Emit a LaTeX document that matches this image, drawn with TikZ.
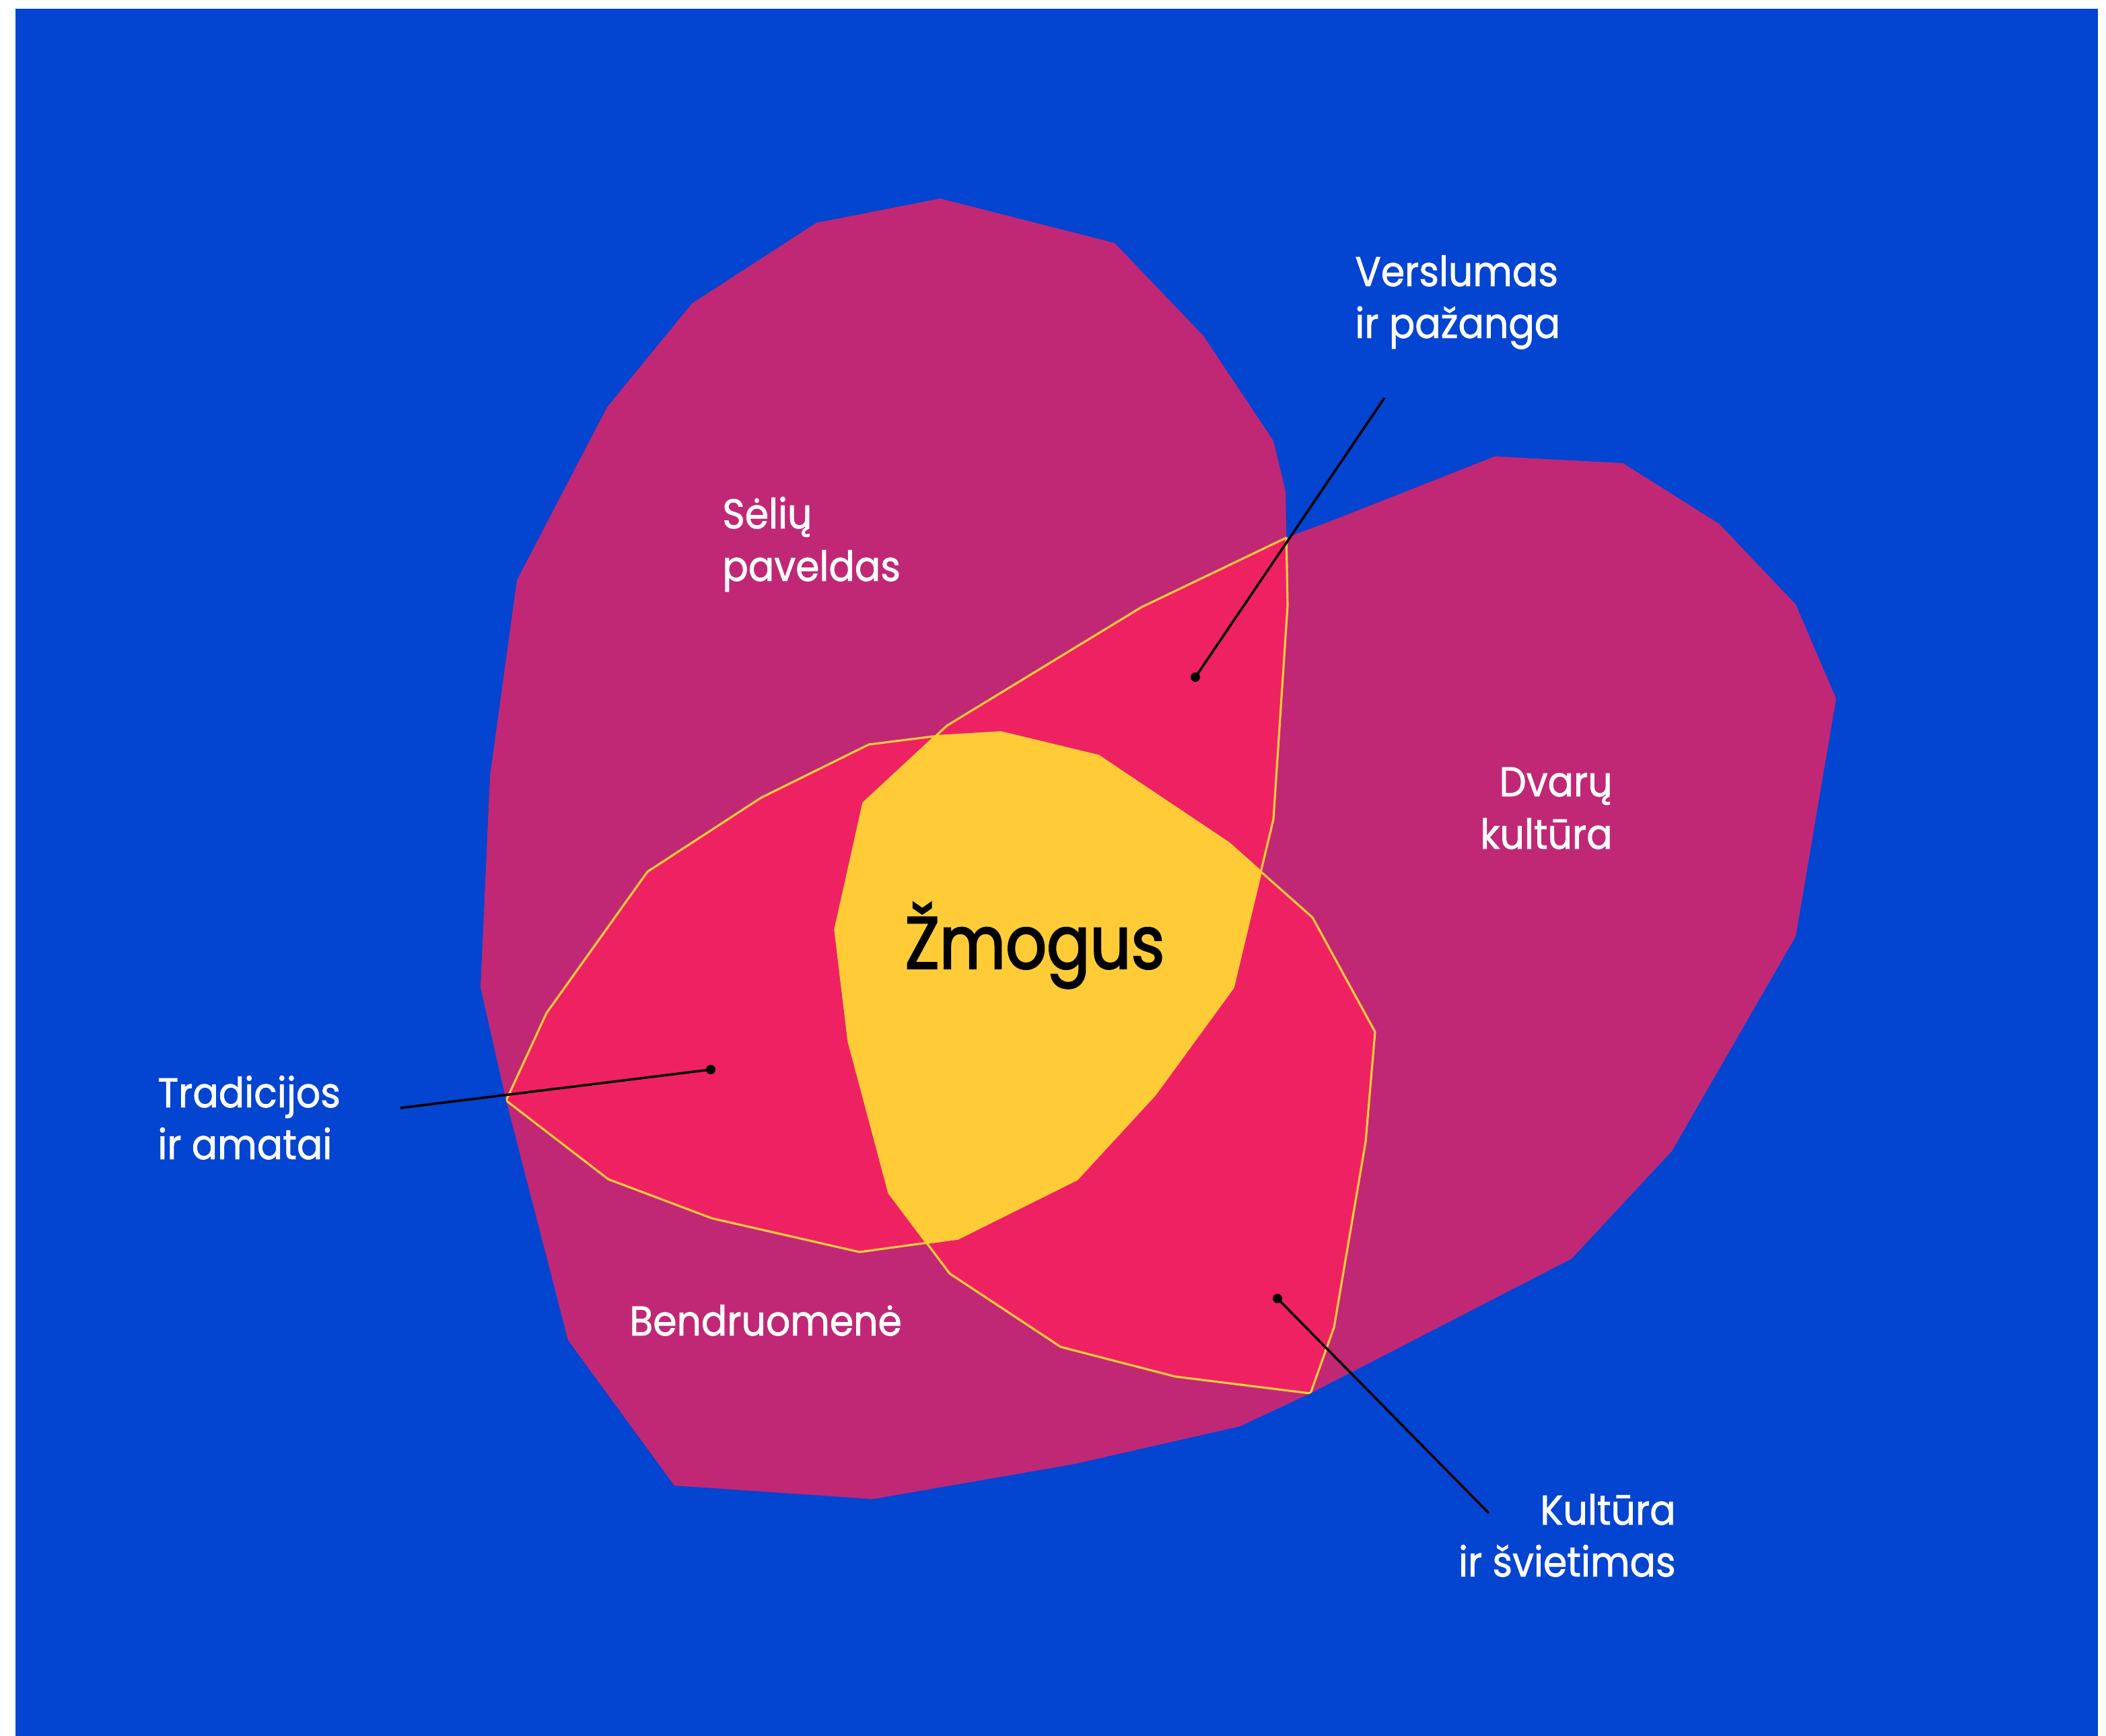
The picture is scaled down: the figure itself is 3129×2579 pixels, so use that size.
\documentclass[tikz,border=0pt]{standalone}
\usepackage{fontspec}
\setmainfont{Poppins}
\newfontfamily\labfont[FakeStretch=0.92, FakeBold=1.2]{Poppins}
\newfontfamily\bigfont[FakeStretch=0.87, FakeBold=2.2]{Poppins}
\definecolor{bgblue}{RGB}{3,68,208}
\definecolor{magent}{RGB}{192,40,118}
\definecolor{pinkred}{RGB}{238,34,98}
\definecolor{sunyel}{RGB}{255,204,56}
\def\pathS{(1397,295) -- (1656,361) -- (1788,499) -- (1892,655) -- (1910,730) -- (1913,900) -- (1892,1217) -- (1832,1467) -- (1716,1626) -- (1600,1752) -- (1423,1840) -- (1277,1860) -- (1058,1810) -- (904,1752) -- (752,1635) -- (714,1467) -- (728,1153) -- (768,862) -- (902,605) -- (1028,451) -- (1213,331) -- cycle}
\def\pathB{(752,1635) -- (812,1505) -- (962,1295) -- (1131,1185) -- (1291,1106) -- (1387,1094) -- (1487,1088) -- (1632,1123) -- (1826,1253) -- (1950,1363) -- (2043,1533) -- (2029,1696) -- (1982,1972) -- (1947,2070) -- (1842,2119) -- (1596,2175) -- (1297,2227) -- (1002,2207) -- (844,1991) -- cycle}
\def\pathD{(1913,798) -- (1983,772) -- (2221,678) -- (2411,688) -- (2554,778) -- (2668,898) -- (2728,1038) -- (2668,1391) -- (2484,1710) -- (2335,1870) -- (1947,2070) -- (1746,2045) -- (1576,2001) -- (1411,1892) -- (1321,1772) -- (1261,1547) -- (1241,1381) -- (1283,1193) -- (1407,1078) -- (1696,902) -- cycle}
\tikzset{
  lab/.style={font=\labfont\fontsize{8.8pt}{10pt}\selectfont, text=white, inner sep=0pt},
  dotmark/.style={circle, fill=black, inner sep=0pt, minimum size=2pt},
  leader/.style={draw=black, line width=0.5pt},
  edgeline/.style={draw=sunyel, line width=0.45pt, line join=round}
}
\begin{document}
\begin{tikzpicture}[x=0.005cm, y=-0.005cm]
\useasboundingbox (0,0) rectangle (3129,2579);
\fill[white] (0,0) rectangle (3129,2579);
\fill[bgblue] (23,13) rectangle (3117,2579);
% three sets
\fill[magent] \pathS;
\fill[magent] \pathB;
\fill[magent] \pathD;
% pairwise intersections
\begin{scope}\clip \pathS; \fill[pinkred] \pathD; \end{scope}
\begin{scope}\clip \pathS; \fill[pinkred] \pathB; \end{scope}
\begin{scope}\clip \pathD; \fill[pinkred] \pathB; \end{scope}
% triple intersection
\begin{scope}\clip \pathS; \clip \pathD; \fill[sunyel] \pathB; \end{scope}
% outlines of intersections
\begin{scope}\clip \pathS; \draw[edgeline] \pathD; \draw[edgeline] \pathB; \end{scope}
\begin{scope}\clip \pathD; \draw[edgeline] \pathS; \draw[edgeline] \pathB; \end{scope}
\begin{scope}\clip \pathB; \draw[edgeline] \pathS; \draw[edgeline] \pathD; \end{scope}
% labels
\node[lab, anchor=base west] (sel1) at (1072,785) {Sėlių};
\node[lab, anchor=base west] (sel2) at (1072,863) {paveldas};
\node[lab, anchor=base east] (dva1) at (2397,1183) {Dvarų};
\node[lab, anchor=base east] (dva2) at (2397,1261) {kultūra};
\node[lab, anchor=base west] (ben) at (934,1984) {Bendruomenė};
\node[lab, anchor=base west] (ver1) at (2012,425) {Verslumas};
\node[lab, anchor=base west] (ver2) at (2012,502) {ir pažanga};
\node[lab, anchor=base west] (tra1) at (233,1645) {Tradicijos};
\node[lab, anchor=base west] (tra2) at (233,1722) {ir amatai};
\node[lab, anchor=base east] (kul1) at (2491,2265) {Kultūra};
\node[lab, anchor=base east] (kul2) at (2491,2342) {ir švietimas};
\node[font=\bigfont\fontsize{15.6pt}{18pt}\selectfont, text=black, inner sep=0pt, anchor=base west] (zmo) at (1343,1439) {Žmogus};
% leaders
\node[dotmark] (vDot) at (1776,1006) {};
\coordinate (vEnd) at (2057,591);
\node[dotmark] (tDot) at (1056,1589) {};
\coordinate (tEnd) at (595,1646);
\node[dotmark] (kDot) at (1898,1929) {};
\coordinate (kEnd) at (2212,2248);
\draw[leader] (vDot.center) -- (vEnd);
\draw[leader] (tDot.center) -- (tEnd);
\draw[leader] (kDot.center) -- (kEnd);
\end{tikzpicture}
\end{document}
